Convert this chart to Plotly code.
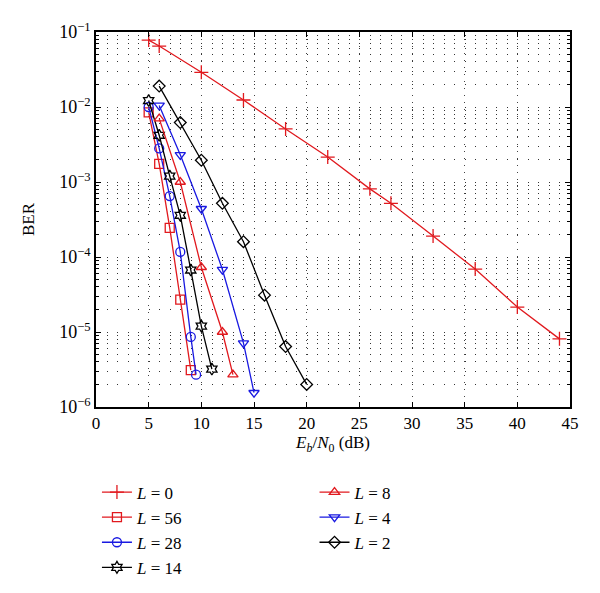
import plotly.graph_objects as go

ebn0_l0 = [5, 6, 10, 14, 18, 22, 26, 28, 32, 36, 40, 44]
ber_l0 = [0.078, 0.065, 0.029, 0.0124, 0.0051, 0.00215, 0.00081, 0.00052, 0.00019, 6.9e-5, 2.15e-5, 8.1e-6]

ebn0_l56 = [5, 6, 7, 8, 9]
ber_l56 = [0.0085, 0.00174, 0.000245, 2.7e-5, 3.1e-6]

ebn0_l28 = [5, 6, 7, 8, 9, 9.5]
ber_l28 = [0.0100, 0.0028, 0.00065, 0.000117, 8.6e-6, 2.7e-6]

ebn0_l14 = [5, 6, 7, 8, 9, 10, 11]
ber_l14 = [0.0122, 0.0042, 0.0012, 0.00036, 6.7e-5, 1.2e-5, 3.2e-6]

ebn0_l8 = [6, 8, 10, 12, 13]
ber_l8 = [0.0070, 0.0010, 7.3e-5, 1.0e-5, 2.7e-6]

ebn0_l4 = [6, 8, 10, 12, 14, 15]
ber_l4 = [0.0105, 0.0023, 0.00044, 6.8e-5, 7.1e-6, 1.55e-6]

ebn0_l2 = [6, 8, 10, 12, 14, 16, 18, 20]
ber_l2 = [0.019, 0.0062, 0.00195, 0.00052, 0.00016, 3.1e-5, 6.4e-6, 2.0e-6]

RED = "rgb(225,25,30)"
BLUE = "rgb(25,25,225)"
BLACK = "black"
SERIF = "'Liberation Serif', 'DejaVu Serif', 'Times New Roman', serif"

series = [
    ("0", ebn0_l0, ber_l0, RED, "cross-thin-open", "legend"),
    ("56", ebn0_l56, ber_l56, RED, "square-open", "legend"),
    ("28", ebn0_l28, ber_l28, BLUE, "circle-open", "legend"),
    ("14", ebn0_l14, ber_l14, BLACK, "hexagram-open", "legend"),
    ("8", ebn0_l8, ber_l8, RED, "triangle-up-open", "legend2"),
    ("4", ebn0_l4, ber_l4, BLUE, "triangle-down-open", "legend2"),
    ("2", ebn0_l2, ber_l2, BLACK, "diamond-open", "legend2"),
]

fig = go.Figure()

for lab, x, y, col, sym, leg in series:
    fig.add_trace(go.Scatter(
        x=x, y=y,
        mode="lines+markers",
        name=f"<i>L</i> = {lab}",
        line=dict(color=col, width=1.3),
        marker=dict(symbol=sym, size=9 if sym != "cross-thin-open" else 10,
                    color=col, line=dict(color=col, width=1.3)),
        legend=leg,
    ))

# horizontal dotted lines put a dot at every 1 dB column (474px / 45)
hdots = "1px,9.533px"

# page body adds 8px, so margins are shifted to keep the plot box in place
fig.update_layout(
    width=600,
    height=593,
    margin=dict(l=88, r=38, t=24, b=194, autoexpand=False),
    paper_bgcolor="white",
    plot_bgcolor="white",
    font=dict(family=SERIF, size=16, color="black"),
    xaxis=dict(
        range=[0, 45], dtick=5, tick0=0,
        showline=True, linecolor="black", linewidth=1.5, mirror="allticks",
        ticks="inside", ticklen=5, tickcolor="black",
        showgrid=True, gridcolor="#444", griddash="1px,6px", gridwidth=1,
        zeroline=False,
        title=dict(text="<i>E<sub>b</sub></i>/<i>N</i><sub>0</sub> (dB)", standoff=2,
                   font=dict(family=SERIF, size=17)),
        tickfont=dict(family=SERIF, size=17),
    ),
    yaxis=dict(
        type="log", range=[-6, -1],
        tickvals=[1e-6, 1e-5, 1e-4, 1e-3, 1e-2, 1e-1],
        ticktext=["10<sup>−6</sup>", "10<sup>−5</sup>", "10<sup>−4</sup>",
                  "10<sup>−3</sup>", "10<sup>−2</sup>", "10<sup>−1</sup>"],
        showline=True, linecolor="black", linewidth=1.5, mirror="allticks",
        ticks="inside", ticklen=5, tickcolor="black",
        showgrid=True, gridcolor="#333", griddash=hdots, gridwidth=1,
        minor=dict(dtick="D1", showgrid=True, gridcolor="#333", griddash=hdots,
                   ticks="inside", ticklen=3, tickcolor="black"),
        zeroline=False,
        title=dict(text="BER", standoff=20, font=dict(family=SERIF, size=17)),
        tickfont=dict(family=SERIF, size=18),
    ),
    legend=dict(
        x=0.002, y=-0.18,
        xanchor="left", yanchor="top", bgcolor="rgba(0,0,0,0)",
        font=dict(family=SERIF, size=17), tracegroupgap=0, itemwidth=30,
    ),
    legend2=dict(
        x=0.461, y=-0.18,
        xanchor="left", yanchor="top", bgcolor="rgba(0,0,0,0)",
        font=dict(family=SERIF, size=17), tracegroupgap=0, itemwidth=30,
    ),
)

fig.write_html("out.html")
